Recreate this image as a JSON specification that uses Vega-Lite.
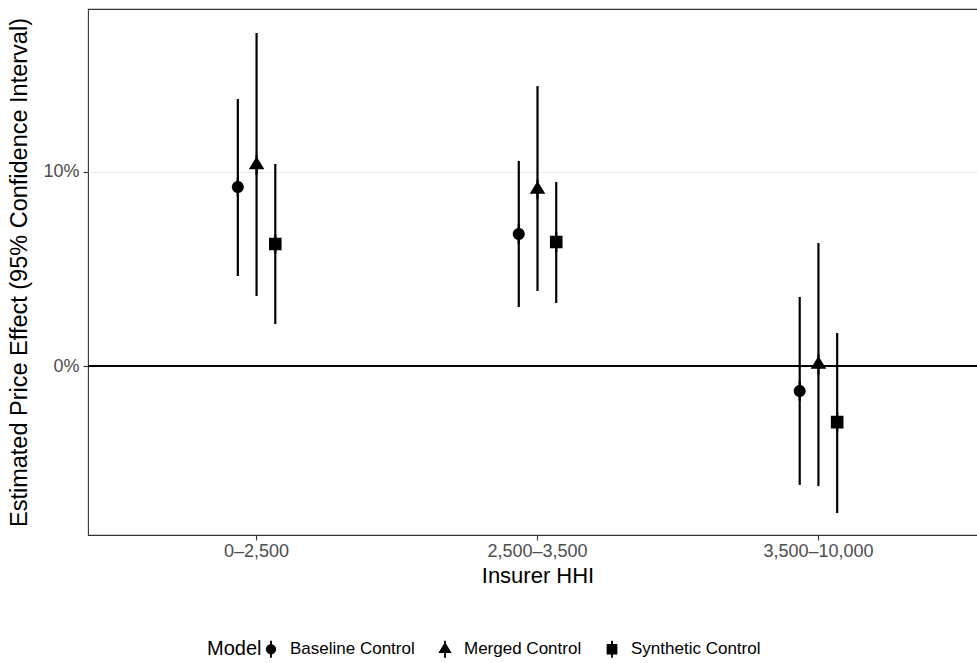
{
  "$schema": "https://vega.github.io/schema/vega-lite/v6.json",
  "autosize": {"type": "none"},
  "padding": {"left": 88, "top": 9, "right": 0, "bottom": 128},
  "width": 899,
  "height": 526,
  "background": "white",
  "data": {
    "values": [
      {"group": "0–2,500", "model": "Baseline Control", "est": 0.0923, "lo": 0.0464, "hi": 0.1376},
      {"group": "0–2,500", "model": "Merged Control", "est": 0.1036, "lo": 0.0361, "hi": 0.1716},
      {"group": "0–2,500", "model": "Synthetic Control", "est": 0.0629, "lo": 0.0216, "hi": 0.1041},
      {"group": "2,500–3,500", "model": "Baseline Control", "est": 0.0680, "lo": 0.0304, "hi": 0.1057},
      {"group": "2,500–3,500", "model": "Merged Control", "est": 0.0910, "lo": 0.0387, "hi": 0.1443},
      {"group": "2,500–3,500", "model": "Synthetic Control", "est": 0.0639, "lo": 0.0325, "hi": 0.0948},
      {"group": "3,500–10,000", "model": "Baseline Control", "est": -0.0129, "lo": -0.0613, "hi": 0.0356},
      {"group": "3,500–10,000", "model": "Merged Control", "est": 0.0008, "lo": -0.0619, "hi": 0.0634},
      {"group": "3,500–10,000", "model": "Synthetic Control", "est": -0.0289, "lo": -0.0758, "hi": 0.0170}
    ]
  },
  "encoding": {
    "x": {
      "field": "group", "type": "nominal",
      "sort": ["0–2,500", "2,500–3,500", "3,500–10,000"],
      "scale": {"paddingInner": 0.8, "paddingOuter": 0.5},
      "axis": {"title": "Insurer HHI", "labelAngle": 0, "domain": false, "grid": false, "ticks": true, "tickBand": "center"}
    },
    "xOffset": {
      "field": "model", "type": "nominal",
      "sort": ["Baseline Control", "Merged Control", "Synthetic Control"],
      "scale": {"paddingInner": 0, "paddingOuter": 0}
    }
  },
  "layer": [
    {
      "mark": {"type": "rule", "color": "black", "strokeWidth": 2},
      "encoding": {"y": {"datum": 0, "type": "quantitative"}, "x": null, "xOffset": null}
    },
    {
      "mark": {"type": "rule", "color": "black", "strokeWidth": 2.2},
      "encoding": {
        "y": {
          "field": "lo", "type": "quantitative",
          "scale": {"domain": [-0.0871, 0.184], "nice": false, "zero": false},
          "axis": {"title": "Estimated Price Effect (95% Confidence Interval)", "titleFontSize": 23.5, "values": [0, 0.1], "format": ".0%", "domain": false, "grid": true}
        },
        "y2": {"field": "hi"}
      }
    },
    {
      "mark": {"type": "point", "filled": true, "opacity": 1, "color": "black", "size": 400, "strokeWidth": 0},
      "encoding": {
        "y": {"field": "est", "type": "quantitative"},
        "shape": {
          "field": "model", "type": "nominal",
          "scale": {
            "domain": ["Baseline Control", "Merged Control", "Synthetic Control"],
            "range": [
              "M-0.6,0 A0.6,0.6 0 1 1 0.6,0 A0.6,0.6 0 1 1 -0.6,0 Z M-0.11,-1 L0.11,-1 L0.11,1 L-0.11,1 Z",
              "M0,-0.85 L0.78,0.43 L-0.78,0.43 Z M-0.11,-1 L0.11,-1 L0.11,1 L-0.11,1 Z",
              "M-0.63,-0.63 L0.63,-0.63 L0.63,0.63 L-0.63,0.63 Z M-0.11,-1 L0.11,-1 L0.11,1 L-0.11,1 Z"
            ]
          },
          "legend": {
            "title": "Model",
            "orient": "none",
            "legendX": 119,
            "legendY": 631,
            "direction": "horizontal",
            "titleOrient": "left",
            "titlePadding": 0,
            "symbolSize": 290,
            "symbolFillColor": "black",
            "symbolStrokeWidth": 0,
            "labelOffset": 10,
            "columnPadding": 21
          }
        }
      }
    }
  ],
  "config": {
    "font": "Liberation Sans",
    "view": {"stroke": "#333333", "strokeWidth": 1.1},
    "axis": {
      "labelFont": "Liberation Sans",
      "titleFont": "Liberation Sans",
      "labelFontSize": 18,
      "titleFontSize": 22,
      "labelColor": "#4D4D4D",
      "titleColor": "black",
      "titleFontWeight": "normal",
      "tickColor": "#333333",
      "tickSize": 5,
      "tickWidth": 1.1,
      "gridColor": "#EBEBEB",
      "gridWidth": 1.1
    },
    "axisX": {"labelPadding": 2, "titlePadding": 5},
    "axisY": {"labelPadding": 4, "titlePadding": 11},
    "legend": {
      "titleFont": "Liberation Sans",
      "labelFont": "Liberation Sans",
      "titleFontSize": 20,
      "labelFontSize": 17,
      "titleFontWeight": "normal",
      "titleColor": "black",
      "labelColor": "black"
    }
  }
}
